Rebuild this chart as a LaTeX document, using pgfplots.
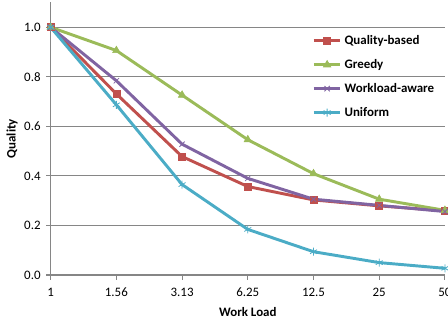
\documentclass[border=0pt]{standalone}
\usepackage{pgfplots}
\pgfplotsset{compat=1.18}
\usepackage{fontspec}
\setmainfont{Carlito}
\definecolor{cq}{RGB}{192,80,77}
\definecolor{cg}{RGB}{155,187,89}
\definecolor{cw}{RGB}{128,100,162}
\definecolor{cu}{RGB}{75,172,198}
\definecolor{gridc}{RGB}{134,134,134}
\begin{document}
\begin{tikzpicture}
\useasboundingbox (0,0) rectangle (336pt,240pt);
\begin{axis}[
  at={(38pt,33.75pt)}, anchor=south west,
  scale only axis, width=295.7pt, height=204.4pt,
  xmin=0, xmax=6, ymin=0, ymax=1.1,
  xtick={0,...,6},
  xticklabels={1,1.56,3.13,6.25,12.5,25,50},
  ytick={0,0.2,...,1.0},
  yticklabel style={/pgf/number format/fixed,/pgf/number format/fixed zerofill,/pgf/number format/precision=1},
  /pgf/number format/assume math mode=true,
  axis lines*=left,
  axis line style={gridc, line width=0.8pt},
  ymajorgrids, grid style={gridc, line width=0.8pt},
  tick align=outside, major tick length=3.5pt,
  tick style={gridc, line width=0.8pt},
  ticklabel style={font=\fontsize{9.7}{11}\selectfont, text=black},
  xticklabel style={yshift=-2.5pt},
  yticklabel style={xshift=-0.5pt},
  xlabel={\bfseries Work Load}, ylabel={\bfseries Quality},
  label style={font=\fontsize{9.7}{11}\selectfont},
  xlabel style={yshift=-1pt},
  ylabel style={yshift=-2pt},
  clip=false,
  legend style={at={(0.663,0.89)}, anchor=north west, draw=none, fill=none,
    font=\bfseries\fontsize{9.7}{11}\selectfont, row sep=5.6pt, inner sep=0pt},
  legend cell align=left,
  legend image code/.code={\draw[#1] (0pt,0pt) -- (20pt,0pt); \draw[#1, mark repeat=2, mark phase=2] plot coordinates {(0pt,0pt) (10pt,0pt) (20pt,0pt)};},
]
\addplot[cq, line width=2.2pt, mark=square*, mark size=2.6pt, mark options={solid, line width=0.5pt}] coordinates {(0,1.0) (1,0.731) (2,0.478) (3,0.357) (4,0.303) (5,0.279) (6,0.259)};
\addplot[cg, line width=2.2pt, mark=triangle*, mark size=3.2pt, mark options={solid, line width=0.5pt}] coordinates {(0,1.0) (1,0.906) (2,0.726) (3,0.546) (4,0.409) (5,0.306) (6,0.261)};
\addplot[cw, line width=2.2pt, mark=x, mark size=2.8pt, mark options={solid, line width=0.6pt}] coordinates {(0,1.0) (1,0.784) (2,0.528) (3,0.39) (4,0.306) (5,0.281) (6,0.256)};
\addplot[cu, line width=2.2pt, mark=asterisk, mark size=3pt, mark options={solid, line width=0.6pt}] coordinates {(0,1.0) (1,0.687) (2,0.365) (3,0.184) (4,0.094) (5,0.05) (6,0.027)};
\legend{Quality-based,Greedy,Workload-aware,Uniform}
\end{axis}
\end{tikzpicture}
\end{document}
